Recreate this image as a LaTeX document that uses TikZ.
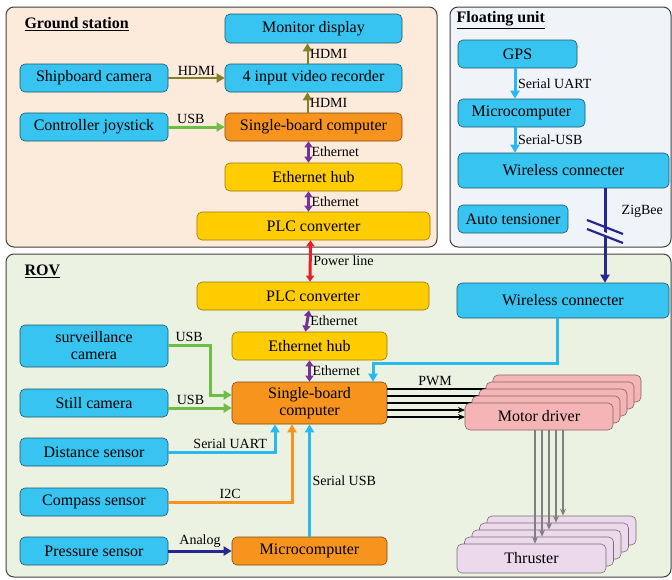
\documentclass[tikz,border=0pt]{standalone}
\usepackage{fontspec}
\setmainfont{Liberation Serif}
\usetikzlibrary{arrows.meta}

\definecolor{gsback}{RGB}{252,234,219}
\definecolor{fuback}{RGB}{240,244,249}
\definecolor{rovback}{RGB}{236,242,225}
\definecolor{boxblue}{RGB}{56,196,240}
\definecolor{boxorange}{RGB}{247,148,30}
\definecolor{boxyellow}{RGB}{255,204,0}
\definecolor{boxpink}{RGB}{245,180,182}
\definecolor{boxlilac}{RGB}{236,218,236}
\definecolor{hdmicol}{RGB}{130,128,40}
\definecolor{usbcol}{RGB}{110,190,70}
\definecolor{ethcol}{RGB}{120,50,150}
\definecolor{powcol}{RGB}{232,30,40}
\definecolor{sercol}{RGB}{40,185,240}
\definecolor{navycol}{RGB}{40,40,140}

\begin{document}
\begin{tikzpicture}[x=1pt,y=-1pt,
    frame/.style={draw=black!75,line width=1pt,rounded corners=8pt},
    blk/.style={rounded corners=5pt,line width=0.6pt,align=center,
        font=\fontsize{16}{17}\selectfont,inner sep=0pt},
    bluebox/.style={blk,fill=boxblue,draw=black!55!boxblue},
    orangebox/.style={blk,fill=boxorange,draw=black!50!boxorange},
    yellowbox/.style={blk,fill=boxyellow,draw=black!40!boxyellow},
    pinkbox/.style={blk,fill=boxpink,draw=black!45!boxpink},
    lilacbox/.style={blk,fill=boxlilac,draw=black!50!boxlilac},
    title/.style={font=\fontsize{16}{17}\selectfont\bfseries,anchor=west},
    lbl/.style={font=\fontsize{14}{15}\selectfont,inner sep=1.5pt},
    link/.style={line width=3pt,-{Triangle[length=8pt,width=9pt]}},
    both/.style={line width=3pt,{Triangle[length=6pt,width=8pt]}-{Triangle[length=6pt,width=8pt]}}]

    \useasboundingbox (0,0) rectangle (672,579);

    % frames
    \draw [frame,fill=gsback] (6,7) rectangle (437,247);
    \draw [frame,fill=fuback] (450,7) rectangle (671,247);
    \draw [frame,fill=rovback] (6,254) rectangle (671,577);

    \node [title] at (21,24) {\underline{Ground station}};
    \node [title] at (453,20) {\underline{Floating unit}};
    \node [title] at (21,271) {\underline{ROV}};

    % ground station
    \node [bluebox,minimum width=177,minimum height=29] (monitor) at (313.5,28.5) {Monitor display};
    \node [bluebox,minimum width=148,minimum height=28] (shipcam) at (94,78) {Shipboard camera};
    \node [bluebox,minimum width=177,minimum height=28] (recorder) at (313.5,78) {4 input video recorder};
    \node [bluebox,minimum width=148,minimum height=28] (joystick) at (94,127) {Controller joystick};
    \node [orangebox,minimum width=177,minimum height=28] (sbcg) at (313.5,127) {Single-board computer};
    \node [yellowbox,minimum width=177,minimum height=28] (hubg) at (313.5,177) {Ethernet hub};
    \node [yellowbox,minimum width=233,minimum height=28] (plcg) at (313.5,226) {PLC converter};

    \draw [link,hdmicol,line width=2pt] (shipcam) -- (recorder) node [midway,above,lbl,black] {HDMI};
    \draw [link,hdmicol,line width=2pt] ([xshift=-6pt]recorder.north) -- ([xshift=-6pt]monitor.south) node [midway,right,lbl,black] {HDMI};
    \draw [link,hdmicol,line width=2pt] ([xshift=-6pt]sbcg.north) -- ([xshift=-6pt]recorder.south) node [midway,right,lbl,black] {HDMI};
    \draw [link,usbcol] (joystick) -- (sbcg) node [pos=0.4,above,lbl,black] {USB};
    \draw [both,ethcol] ([xshift=-5pt]sbcg.south) -- ([xshift=-5pt]hubg.north) node [midway,right,lbl,black] {Ethernet};
    \draw [both,ethcol] ([xshift=-5pt]hubg.south) -- ([xshift=-5pt]plcg.north) node [midway,right,lbl,black] {Ethernet};

    % floating unit
    \node [bluebox,minimum width=119,minimum height=28] (gps) at (517.5,54) {GPS};
    \node [bluebox,minimum width=127,minimum height=28] (mcfu) at (521.5,113) {Microcomputer};
    \node [bluebox,minimum width=211,minimum height=35] (wlfu) at (563.5,170.5) {Wireless connecter};
    \node [bluebox,minimum width=110,minimum height=28] (tens) at (513,219) {Auto tensioner};

    \draw [link,sercol] (gps.south -| 515,0) -- (mcfu.north -| 515,0) node [midway,right,lbl,black] {Serial UART};
    \draw [link,sercol] (mcfu.south -| 515,0) -- (wlfu.north -| 515,0) node [midway,right,lbl,black] {Serial-USB};

    % rov
    \node [yellowbox,minimum width=232,minimum height=28] (plcr) at (313,296) {PLC converter};
    \node [yellowbox,minimum width=155,minimum height=28] (hubr) at (309.5,346) {Ethernet hub};
    \node [orangebox,minimum width=155,minimum height=42] (sbcr) at (309.5,403) {Single-board\\computer};
    \node [bluebox,minimum width=148,minimum height=42] (survcam) at (94,346) {surveillance\\camera};
    \node [bluebox,minimum width=148,minimum height=28] (stillcam) at (94,403) {Still camera};
    \node [bluebox,minimum width=148,minimum height=28] (dist) at (94,452) {Distance sensor};
    \node [bluebox,minimum width=148,minimum height=28] (comp) at (94,502) {Compass sensor};
    \node [bluebox,minimum width=148,minimum height=28] (pres) at (94,551) {Pressure sensor};
    \node [orangebox,minimum width=155,minimum height=28] (mcr) at (309.5,551) {Microcomputer};
    \node [bluebox,minimum width=212,minimum height=35] (wlr) at (563,300.5) {Wireless connecter};

    % motor drivers and thrusters, back to front
    \foreach \i in {4,...,0}
        \node [lilacbox,minimum width=149,minimum height=29] (thr\i) at (531.5+7.5*\i,558.5-7*\i) {};
    \node at (thr0) {\fontsize{16}{17}\selectfont Thruster};

    % pwm lines
    \foreach \y in {389,396,403}
        \draw [line width=1.8pt] (sbcr.east |- 0,\y) -- (486,\y);
    \foreach \y in {410,417}
        \draw [line width=1.8pt,-{Stealth[length=7pt,width=6pt]}] (sbcr.east |- 0,\y) -- (465,\y);
    \node [lbl] at (435,381) {PWM};

    \foreach \i in {4,...,0}
        \node [pinkbox,minimum width=148,minimum height=27] (mot\i) at (539+7*\i,416.5-7*\i) {};
    \node at (mot0) {\fontsize{16}{17}\selectfont Motor driver};

    \foreach \i in {0,...,4}
        \draw [gray,line width=1.5pt,-{Stealth[length=7pt,width=6pt]}] (mot0.south -| 535+7*\i,0) -- (thr\i.north -| 535+7*\i,0);

    \draw [both,powcol] ([xshift=-3pt]plcg.south) -- ([xshift=-3pt]plcr.north) node [midway,right,lbl,black] {Power line};
    \draw [both,ethcol] ([xshift=-4pt]plcr.south) -- ([xshift=-4pt]hubr.north) node [midway,right,lbl,black] {Ethernet};
    \draw [both,ethcol] (hubr.south) -- (sbcr.north) node [midway,right,lbl,black] {Ethernet};

    \draw [link,usbcol] (survcam.east |- 0,345) -- (210,345) node [pos=0.5,above,lbl,black] {USB} -- (210,395) -- (sbcr.west |- 0,395);
    \draw [link,usbcol] (stillcam.east |- 0,408) -- (sbcr.west |- 0,408) node [pos=0.35,above,lbl,black] {USB};

    \draw [link,sercol] (wlr.south -| 557,0) -- (557,363) -- (373,363) -- (sbcr.north -| 373,0);
    \draw [link,sercol] (dist.east) -- (275,452) node [pos=0.58,above,lbl,black] {Serial UART} -- (sbcr.south -| 275,0);
    \draw [link,boxorange] (comp.east) -- (292,502) node [pos=0.5,above,lbl,black] {I2C} -- (sbcr.south -| 292,0);
    \draw [link,sercol] (mcr.north) -- (sbcr.south) node [midway,right,lbl,black] {Serial USB};
    \draw [link,navycol] (pres) -- (mcr) node [midway,above,lbl,black] {Analog};

    % zigbee link
    \draw [link,navycol] (wlfu.south -| 605,0) -- (wlr.north -| 605,0);
    \fill [fuback] (586,225) -- (622,239) -- (622,242) -- (586,228) -- cycle;
    \draw [navycol,line width=2.2pt] (587,220) -- (623,234);
    \draw [navycol,line width=2.2pt] (587,229) -- (623,243);
    \node [lbl,anchor=west] at (620,211) {ZigBee};

\end{tikzpicture}
\end{document}
